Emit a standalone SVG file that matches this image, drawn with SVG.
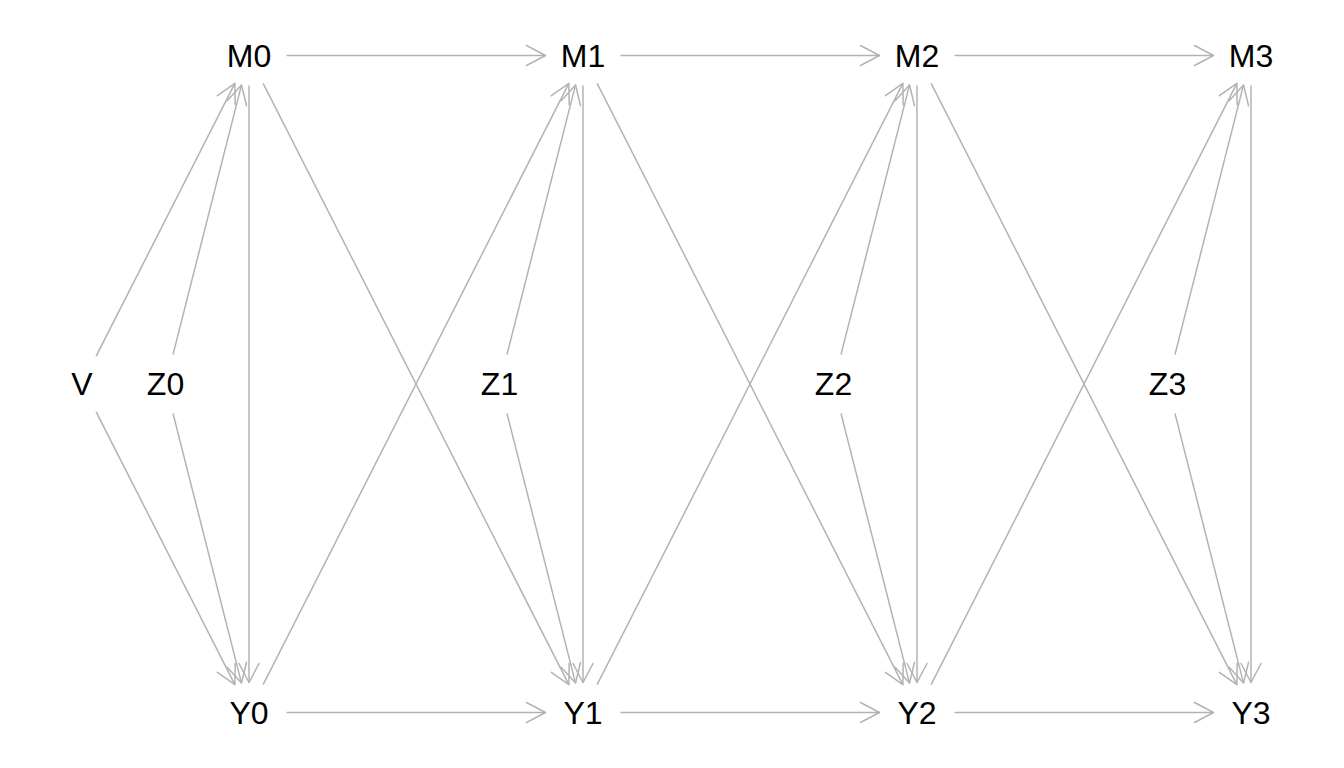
<svg xmlns="http://www.w3.org/2000/svg" width="1344" height="768" viewBox="0 0 1344 768">
<style>
.e{stroke:#b3b3b3;stroke-width:1.5;fill:none;marker-end:url(#a)}
.n{font-family:"Liberation Sans",Arial,sans-serif;font-size:32px;fill:#000;text-anchor:middle}
</style>
<defs>
<marker id="a" markerUnits="userSpaceOnUse" viewBox="-22 -12 24 24" markerWidth="24" markerHeight="24" refX="0" refY="0" orient="auto" overflow="visible">
<path d="M-19,-10 L0,0 L-19,10" fill="none" stroke="#b3b3b3" stroke-width="1.5" stroke-linejoin="round" stroke-linecap="round"/>
</marker>
</defs>
<rect width="1344" height="768" fill="#fff"/>
<g id="connectors">
<line class="e" x1="96.13" y1="356.21" x2="234.87" y2="83.29"/>
<line class="e" x1="96.13" y1="411.79" x2="234.87" y2="684.71"/>
<line class="e" x1="172.97" y1="354.6" x2="241.53" y2="84.9"/>
<line class="e" x1="172.97" y1="413.4" x2="241.53" y2="683.1"/>
<line class="e" x1="249" y1="85.5" x2="249" y2="682.5"/>
<line class="e" x1="286.5" y1="55.5" x2="545.5" y2="55.5"/>
<line class="e" x1="286.5" y1="712.5" x2="545.5" y2="712.5"/>
<line class="e" x1="263.13" y1="83.29" x2="568.87" y2="684.71"/>
<line class="e" x1="263.13" y1="684.71" x2="568.87" y2="83.29"/>
<line class="e" x1="506.97" y1="354.6" x2="575.53" y2="84.9"/>
<line class="e" x1="506.97" y1="413.4" x2="575.53" y2="683.1"/>
<line class="e" x1="583" y1="85.5" x2="583" y2="682.5"/>
<line class="e" x1="620.5" y1="55.5" x2="879.5" y2="55.5"/>
<line class="e" x1="620.5" y1="712.5" x2="879.5" y2="712.5"/>
<line class="e" x1="597.13" y1="83.29" x2="902.87" y2="684.71"/>
<line class="e" x1="597.13" y1="684.71" x2="902.87" y2="83.29"/>
<line class="e" x1="840.97" y1="354.6" x2="909.53" y2="84.9"/>
<line class="e" x1="840.97" y1="413.4" x2="909.53" y2="683.1"/>
<line class="e" x1="917" y1="85.5" x2="917" y2="682.5"/>
<line class="e" x1="954.5" y1="55.5" x2="1213.5" y2="55.5"/>
<line class="e" x1="954.5" y1="712.5" x2="1213.5" y2="712.5"/>
<line class="e" x1="931.13" y1="83.29" x2="1236.87" y2="684.71"/>
<line class="e" x1="931.13" y1="684.71" x2="1236.87" y2="83.29"/>
<line class="e" x1="1174.97" y1="354.6" x2="1243.53" y2="84.9"/>
<line class="e" x1="1174.97" y1="413.4" x2="1243.53" y2="683.1"/>
<line class="e" x1="1251" y1="85.5" x2="1251" y2="682.5"/>
</g>
<g id="V"><text class="n" x="82" y="395">V</text></g>
<g id="Z0"><text class="n" x="165.5" y="395">Z0</text></g>
<g id="Z1"><text class="n" x="499.5" y="395">Z1</text></g>
<g id="Z2"><text class="n" x="833.5" y="395">Z2</text></g>
<g id="Z3"><text class="n" x="1167.5" y="395">Z3</text></g>
<g id="M0"><text class="n" x="249" y="67">M0</text></g>
<g id="M1"><text class="n" x="583" y="67">M1</text></g>
<g id="M2"><text class="n" x="917" y="67">M2</text></g>
<g id="M3"><text class="n" x="1251" y="67">M3</text></g>
<g id="Y0"><text class="n" x="249" y="724">Y0</text></g>
<g id="Y1"><text class="n" x="583" y="724">Y1</text></g>
<g id="Y2"><text class="n" x="917" y="724">Y2</text></g>
<g id="Y3"><text class="n" x="1251" y="724">Y3</text></g>
</svg>
